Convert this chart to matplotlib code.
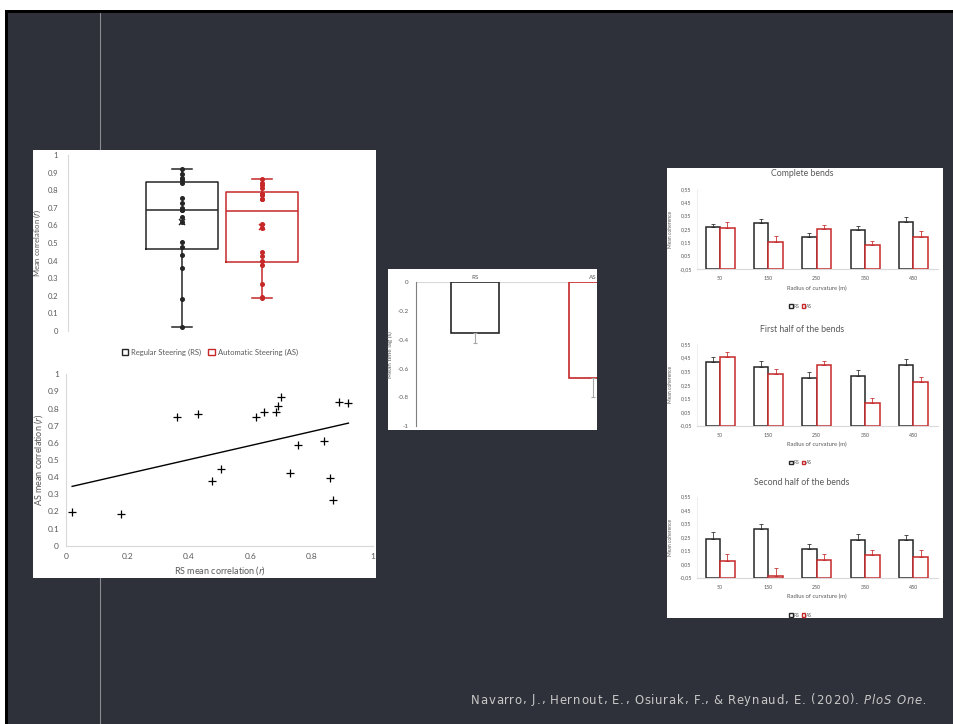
import numpy as np
import matplotlib
matplotlib.use('Agg')
import matplotlib.pyplot as plt
from matplotlib.patches import Rectangle, Patch
from matplotlib.lines import Line2D

plt.rcParams['font.family'] = ['Lato', 'DejaVu Sans']

W, H = 954, 724

# ---- data ----
# per participant mean correlation, regular steering (RS) vs automatic steering (AS)
rs_corr = [0.02, 0.18, 0.36, 0.43, 0.475, 0.505, 0.62, 0.645, 0.685,
           0.69, 0.70, 0.73, 0.755, 0.84, 0.86, 0.87, 0.89, 0.92]
as_corr = [0.195, 0.185, 0.75, 0.77, 0.375, 0.45, 0.75, 0.78, 0.78,
           0.815, 0.865, 0.425, 0.585, 0.61, 0.395, 0.265, 0.84, 0.83]

lag_groups = ['RS', 'AS']
lag_mean = [-0.35, -0.665]
lag_err = [0.07, 0.135]

radii = ['50', '150', '250', '350', '450']
complete_rs = [0.265, 0.295, 0.19, 0.24, 0.30]
complete_rs_err = [0.02, 0.03, 0.03, 0.035, 0.037]
complete_as = [0.26, 0.155, 0.25, 0.13, 0.187]
complete_as_err = [0.045, 0.04, 0.033, 0.033, 0.048]
first_rs = [0.42, 0.383, 0.303, 0.317, 0.398]
first_rs_err = [0.035, 0.04, 0.044, 0.044, 0.044]
first_as = [0.452, 0.327, 0.393, 0.119, 0.268]
first_as_err = [0.042, 0.042, 0.035, 0.037, 0.042]
second_rs = [0.236, 0.313, 0.165, 0.231, 0.227]
second_rs_err = [0.05, 0.037, 0.034, 0.045, 0.039]
second_as = [0.073, -0.035, 0.078, 0.12, 0.103]
second_as_err = [0.055, 0.059, 0.05, 0.037, 0.054]

BG = '#2e3139'
BLACK = '#262626'
RED = '#c62828'
GREY = '#595959'
LIGHT = '#d9d9d9'

fig = plt.figure(figsize=(W / 100, H / 100), dpi=100)
fig.patch.set_facecolor(BG)


def px_rect(x0, y0, x1, y1, color, z=-3):
    fig.add_artist(Rectangle((x0 / W, 1 - y1 / H), (x1 - x0) / W, (y1 - y0) / H,
                             transform=fig.transFigure, facecolor=color,
                             edgecolor='none', zorder=z))


def px_axes(x0, y0, x1, y1):
    ax = fig.add_axes([x0 / W, 1 - y1 / H, (x1 - x0) / W, (y1 - y0) / H])
    ax.patch.set_visible(False)
    return ax


def px_text(x, y, s, **kw):
    return fig.text(x / W, 1 - y / H, s, **kw)


def fmt(v):
    return f'{v + 0.0:g}'


# slide frame
px_rect(0, 0, W, 10, 'white', z=-6)
px_rect(0, 10, W, 13, 'black', z=-6)
px_rect(0, 0, 5, H, 'white', z=-6)
px_rect(5, 10, 8, H, 'black', z=-6)
fig.add_artist(Line2D([100 / W, 100 / W], [0, 1 - 13 / H], transform=fig.transFigure,
                      color='#8a8b92', lw=0.8, zorder=-4))

# white panels
px_rect(33, 150, 376, 578, 'white')
px_rect(388, 269, 597, 430, 'white')
px_rect(667, 168, 943, 618, 'white')

# ---- box plot ----
ax1 = px_axes(68, 155, 372, 331)


def box_stats(vals):
    q1, med, q3 = np.percentile(vals, [25, 50, 75], method='weibull')
    return dict(med=med, q1=q1, q3=q3, whislo=min(vals), whishi=max(vals),
                fliers=[])


for pos, vals, c in [(1, rs_corr, BLACK), (2, as_corr, RED)]:
    lp = dict(color=c, lw=1.1)
    ax1.bxp([box_stats(vals)], positions=[pos], widths=0.91, capwidths=0.26,
            boxprops=lp, medianprops=lp, whiskerprops=lp, capprops=lp)
    ax1.plot([pos] * len(vals), vals, 'o', ms=2.6, color=c)
    ax1.plot(pos, np.mean(vals), 'x', ms=4, mew=1.1, color=c)

yt1 = np.round(np.arange(0, 1.01, 0.1), 1)
ax1.set_xlim(-0.425, 3.375)
ax1.set_ylim(0, 1)
ax1.set_yticks(yt1)
ax1.set_yticklabels([fmt(v) for v in yt1])
ax1.set_xticks([])
for s in ['top', 'right', 'bottom']:
    ax1.spines[s].set_visible(False)
ax1.spines['left'].set_color(LIGHT)
ax1.tick_params(axis='y', length=0, labelsize=5.5, labelcolor=GREY, pad=7)
px_text(37, 243, r'Mean correlation ($\it{r}$)', rotation=90, ha='center',
        va='center', fontsize=5.5, color=GREY)
fig.legend(handles=[Patch(facecolor='white', edgecolor=BLACK, lw=1.0),
                    Patch(facecolor='white', edgecolor=RED, lw=1.0)],
           labels=['Regular Steering (RS)', 'Automatic Steering (AS)'],
           loc='center', bbox_to_anchor=(210 / W, 1 - 352 / H), ncol=2,
           frameon=False, fontsize=5.5, labelcolor=GREY, handlelength=0.9,
           handleheight=0.9, handletextpad=0.4, columnspacing=0.9)

# ---- scatter ----
ax2 = px_axes(66, 374.3, 373, 545.7)
ax2.plot(rs_corr, as_corr, '+', ms=6, mew=0.9, color='black')
slope, icpt = np.polyfit(rs_corr, as_corr, 1)
xs = np.array([min(rs_corr), max(rs_corr)])
ax2.plot(xs, slope * xs + icpt, color='black', lw=1.0)
ax2.set_xlim(0, 1)
ax2.set_ylim(0, 1)
xt = np.round(np.arange(0, 1.01, 0.2), 1)
yt = np.round(np.arange(0, 1.01, 0.1), 1)
ax2.set_xticks(xt)
ax2.set_xticklabels([fmt(v) for v in xt])
ax2.set_yticks(yt)
ax2.set_yticklabels([fmt(v) for v in yt])
for s in ['top', 'right']:
    ax2.spines[s].set_visible(False)
for s in ['left', 'bottom']:
    ax2.spines[s].set_color(LIGHT)
ax2.tick_params(length=0, labelsize=6, labelcolor=GREY, pad=5)
ax2.set_xlabel(r'RS mean correlation ($\it{r}$)', fontsize=6.5, color=GREY, labelpad=3)
ax2.set_ylabel(r'AS mean correlation ($\it{r}$)', fontsize=6.5, color=GREY, labelpad=2)

# ---- time lag bars ----
ax3 = px_axes(415.7, 282.3, 597, 426.3)
for i, (m, e, c) in enumerate(zip(lag_mean, lag_err, [BLACK, RED])):
    ax3.bar(i, m, width=0.41, facecolor='white', edgecolor=c, lw=1.2, zorder=2)
    ax3.errorbar(i, m, yerr=[[e], [0]], fmt='none', ecolor='#a6a6a6', elinewidth=0.8,
                 capsize=1.5, capthick=0.8, zorder=3)
ax3.axhline(0, color=LIGHT, lw=0.8, zorder=1)
yt3 = np.round(np.arange(-1, 0.01, 0.2), 1)
ax3.set_xlim(-0.5025, 1.034)
ax3.set_ylim(-1, 0)
ax3.set_yticks(yt3)
ax3.set_yticklabels([fmt(v) for v in yt3])
ax3.set_xticks([0, 1])
ax3.set_xticklabels(lag_groups)
ax3.xaxis.tick_top()
for s in ['top', 'right', 'bottom']:
    ax3.spines[s].set_visible(False)
ax3.spines['left'].set_color('#7f7f7f')
ax3.tick_params(length=0, labelsize=4.5, labelcolor=GREY, pad=5)
ax3.tick_params(axis='x', pad=2)
ax3.set_ylabel('Mean time lag (s)', fontsize=4.5, color=GREY, labelpad=3)

# ---- coherence panels ----
panels = [
    ('Complete bends', complete_rs, complete_rs_err, complete_as, complete_as_err,
     189, 269, 173.3, 306),
    ('First half of the bends', first_rs, first_rs_err, first_as, first_as_err,
     344, 425.7, 329, 463),
    ('Second half of the bends', second_rs, second_rs_err, second_as, second_as_err,
     496.7, 577.7, 482.7, 615.3),
]
base = -0.05
x = np.arange(len(radii))
ticks = np.round(np.arange(-0.05, 0.56, 0.1), 2)
for title, rs, rs_e, as_, as_e, top, bot, ty, ly in panels:
    ax = px_axes(697, top, 938, bot)
    for off, vals, errs, c in [(-0.15, rs, rs_e, BLACK), (0.15, as_, as_e, RED)]:
        ax.bar(x + off, np.array(vals) - base, bottom=base, width=0.30,
               facecolor='white', edgecolor=c, lw=1.1, zorder=2)
        ax.errorbar(x + off, vals, yerr=[np.zeros(len(vals)), errs], fmt='none',
                    ecolor=c, elinewidth=0.7, capsize=1.3, capthick=0.7, alpha=0.8,
                    zorder=3)
    ax.set_xlim(-0.476, 4.51)
    ax.set_ylim(-0.05, 0.55)
    ax.set_yticks(ticks)
    ax.set_yticklabels([f'{v:.2f}'.replace('.', ',') for v in ticks])
    ax.set_xticks(x)
    ax.set_xticklabels(radii)
    for s in ['top', 'right']:
        ax.spines[s].set_visible(False)
    ax.spines['left'].set_color('#efefef')
    ax.spines['bottom'].set_color(LIGHT)
    ax.tick_params(length=0, labelsize=3.8, labelcolor=GREY)
    ax.tick_params(axis='x', pad=5)
    ax.tick_params(axis='y', pad=4)
    px_text(802, ty, title, ha='center', va='center', fontsize=6.3, color=GREY)
    px_text(816.7, bot + 19, 'Radius of curvature (m)', ha='center', va='center',
            fontsize=4.2, color=GREY)
    px_text(671, (top + bot) / 2, 'Mean coherence', rotation=90, ha='center',
            va='center', fontsize=3.6, color=GREY)
    fig.legend(handles=[Patch(facecolor='white', edgecolor=BLACK, lw=1.0),
                        Patch(facecolor='white', edgecolor=RED, lw=1.0)],
               labels=['RS', 'AS'], loc='center',
               bbox_to_anchor=(801 / W, 1 - ly / H), ncol=2, frameon=False,
               fontsize=3.6, labelcolor=GREY, handlelength=0.7, handleheight=0.7,
               handletextpad=0.2, columnspacing=0.4, borderpad=0)

# ---- citation, placed letter by letter to get the wide tracking ----
renderer = fig.canvas.get_renderer()
cite_parts = [('Navarro, J., Hernout, E., Osiurak, F., & Reynaud, E. (2020). ', 'normal'),
              ('PloS One.', 'italic')]
cite_kw = dict(va='baseline', fontsize=8.4, color='#c8c8c8', family=['DejaVu Sans'])
probe = px_text(0, 0, '', **cite_kw)


def text_w(s, style):
    # width of s measured with a trailing marker so spaces count
    probe.set_style(style)
    probe.set_text(s + 'x')
    w1 = probe.get_window_extent(renderer).width
    probe.set_text('x')
    w2 = probe.get_window_extent(renderer).width
    return w1 - w2


track = 0.85
cx = 471.0
for txt, style in cite_parts:
    for i, ch in enumerate(txt):
        px_text(cx + text_w(txt[:i], style) + i * track, 703.5, ch, ha='left',
                style=style, **cite_kw)
    cx += text_w(txt, style) + len(txt) * track
probe.set_text('')

fig.savefig('out.png', dpi=100, facecolor=fig.get_facecolor())
